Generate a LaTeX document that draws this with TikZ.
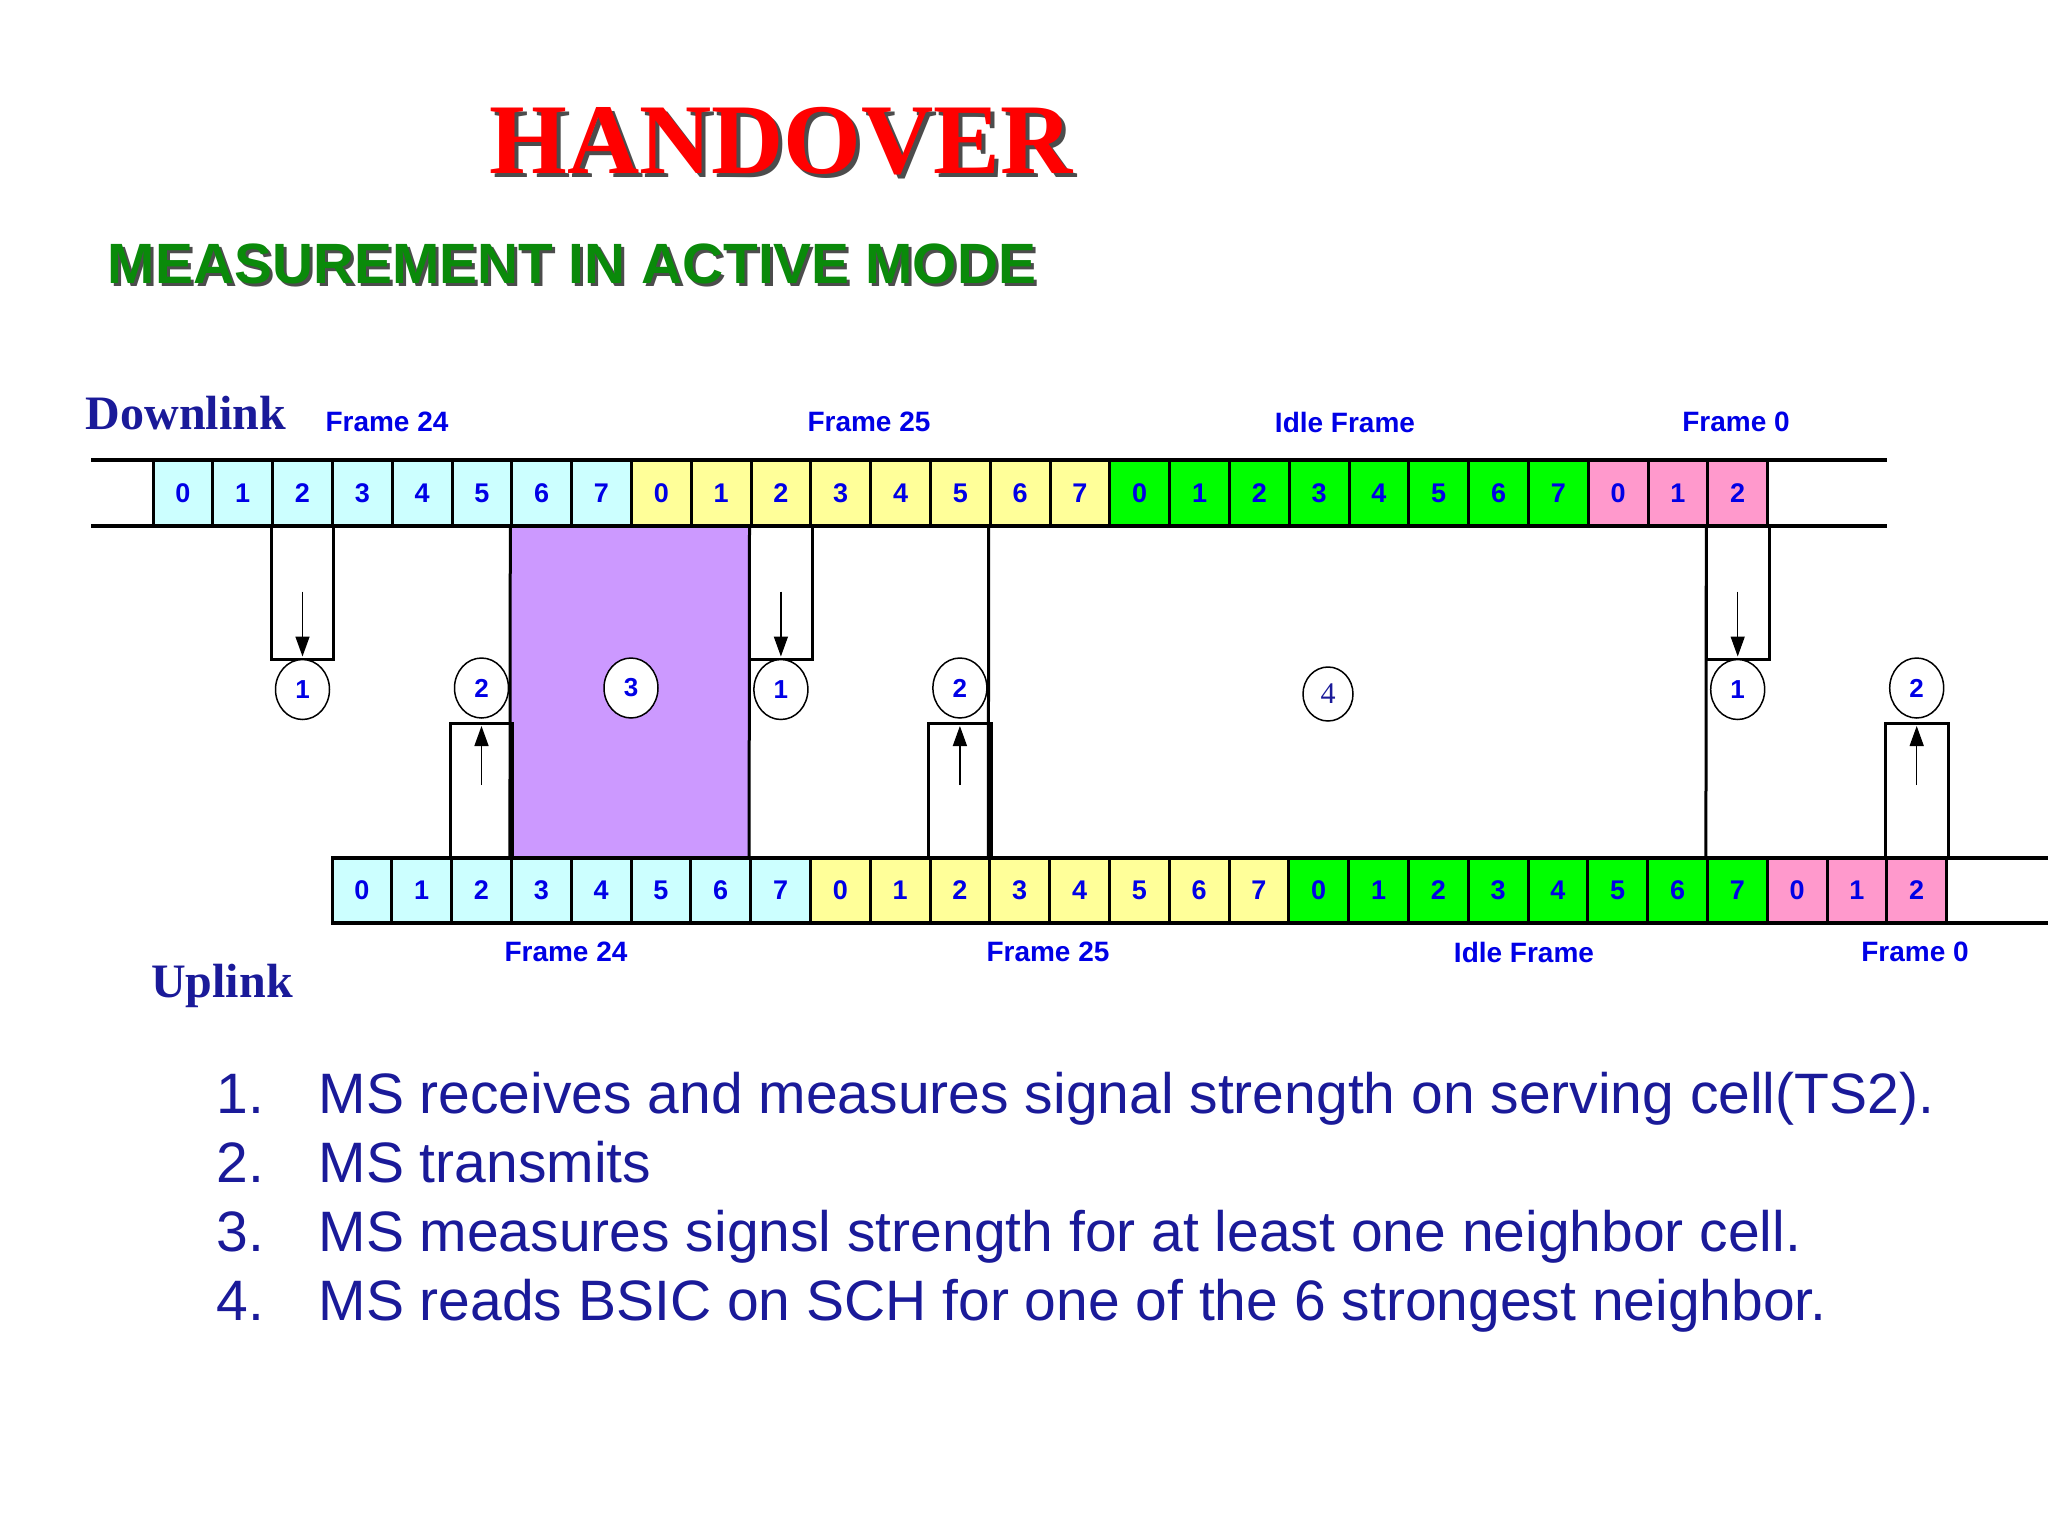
\documentclass[tikz,border=0pt]{standalone}
\usepackage{fontspec}
\setmainfont{Liberation Serif}
\setsansfont{Liberation Sans}
\usetikzlibrary{calc,arrows.meta}
\definecolor{c0}{HTML}{CCFFFF}
\definecolor{c1}{HTML}{FFFF99}
\definecolor{c2}{HTML}{00FF00}
\definecolor{c3}{HTML}{FF99CC}
\definecolor{purp}{HTML}{CC99FF}
\definecolor{dblue}{HTML}{0000E6}
\definecolor{navy}{HTML}{1A1A99}
\definecolor{tgreen}{HTML}{0A8A0A}
\tikzset{
 cell/.style={draw,line width=3pt,minimum width=59.8pt,minimum height=66pt,inner sep=0pt,
   font=\sffamily\bfseries\fontsize{27}{27}\selectfont,text=dblue},
 rail/.style={line width=4.5pt},
 bx/.style={line width=3pt},
 arr/.style={line width=1.5pt,-{Triangle[length=20pt,width=14pt]}},
 circ/.style={draw,ellipse,line width=1.5pt,minimum width=54pt,minimum height=60pt,inner sep=0pt,
   font=\sffamily\bfseries\fontsize{26}{26}\selectfont,text=dblue},
 flab/.style={font=\sffamily\bfseries\fontsize{28}{28}\selectfont,text=dblue},
 link/.style={font=\bfseries\fontsize{48}{48}\selectfont,text=navy},
 item/.style={font=\sffamily\fontsize{57}{57}\selectfont,text=navy,anchor=base west}
}
\usetikzlibrary{shapes.geometric}
\begin{document}
\begin{tikzpicture}[x=1pt,y=-1pt]
\useasboundingbox (0,0) rectangle (2048,1536);
\fill[white] (0,0) rectangle (2048,1536);
% title
\node[text=black!70,font=\bfseries\fontsize{100}{100}\selectfont] at (785,145) {HANDOVER};
\node[text=red,font=\bfseries\fontsize{100}{100}\selectfont] (title) at (781,141) {HANDOVER};
\node[text=black!70] at (575,267) {\resizebox{928pt}{!}{\sffamily\bfseries MEASUREMENT IN ACTIVE MODE}};
\node[text=tgreen] (sub) at (572,264) {\resizebox{928pt}{!}{\sffamily\bfseries MEASUREMENT IN ACTIVE MODE}};
% cells
\foreach \i in {0,...,26}{
  \pgfmathtruncatemacro\t{mod(\i,8)}
  \pgfmathtruncatemacro\g{div(\i,8)}
  \node[cell,fill=c\g] (dl\i) at ({153+59.8*(\i+0.5)},493) {\t};
  \node[cell,fill=c\g] (ul\i) at ({332+59.8*(\i+0.5)},890.5) {\t};
}
\draw[rail] (91,460) -- (1887,460);
\draw[rail] (91,526) -- (1887,526);
\draw[rail] (332,858) -- (2048,858);
\draw[rail] (332,923) -- (2048,923);
% purple region
\fill[purp] (dl6.south west) rectangle (ul7.north west);
\draw[bx] (dl6.south west) -- (ul3.north west);
\draw[bx] (dl10.south west) -- (ul7.north west);
\draw[bx] (dl14.south west) -- (ul11.north west);
\draw[bx] (dl26.south west) -- (ul23.north west);
% measure boxes
\foreach \k in {2,10,26}{
  \draw[bx] (dl\k.south west) -- ++(0,132) -| (dl\k.south east);
  \draw[arr] ($(dl\k.south)+(0,64)$) -- ($(dl\k.south)+(0,129)$);
  \node[circ,fill=white] (m\k) at ($(dl\k.south)+(0,162)$) {1};
  \draw[bx] (ul\k.north west) -- ++(0,-133) -| (ul\k.north east);
  \draw[arr] ($(ul\k.north)+(0,-71)$) -- ($(ul\k.north)+(0,-130)$);
  \node[circ,fill=white] (t\k) at ($(ul\k.north)+(0,-168)$) {2};
}
\node[circ,fill=white] (n3) at (631,688) {3};
\node[circ,minimum width=50pt,minimum height=54pt,font=\fontsize{30}{30}\selectfont,text=navy] (n4) at (1328,694) {4};
% labels
\node[link] (dlk) at (186,413) {Downlink};
\node[link] (ulk) at (222,986) {Uplink};
\node[flab] at (387,422) {Frame 24};
\node[flab] at (869,422) {Frame 25};
\node[flab] at (1345,422) {Idle Frame};
\node[flab] at (1736,422) {Frame 0};
\node[flab] at (566,952) {Frame 24};
\node[flab] at (1048,952) {Frame 25};
\node[flab] at (1524,952) {Idle Frame};
\node[flab] at (1915,952) {Frame 0};
% list
\foreach \n/\y/\s in {1/1113/{MS receives and measures signal strength on serving cell(TS2).},
 2/1182/{MS transmits},
 3/1251/{MS measures signsl strength for at least one neighbor cell.},
 4/1320/{MS reads BSIC on SCH for one of the 6 strongest neighbor.}}{
  \node[item] (num\n) at (213,\y) {\n.};
  \node[item] (txt\n) at (315,\y) {\s};
}
\end{tikzpicture}
\end{document}
